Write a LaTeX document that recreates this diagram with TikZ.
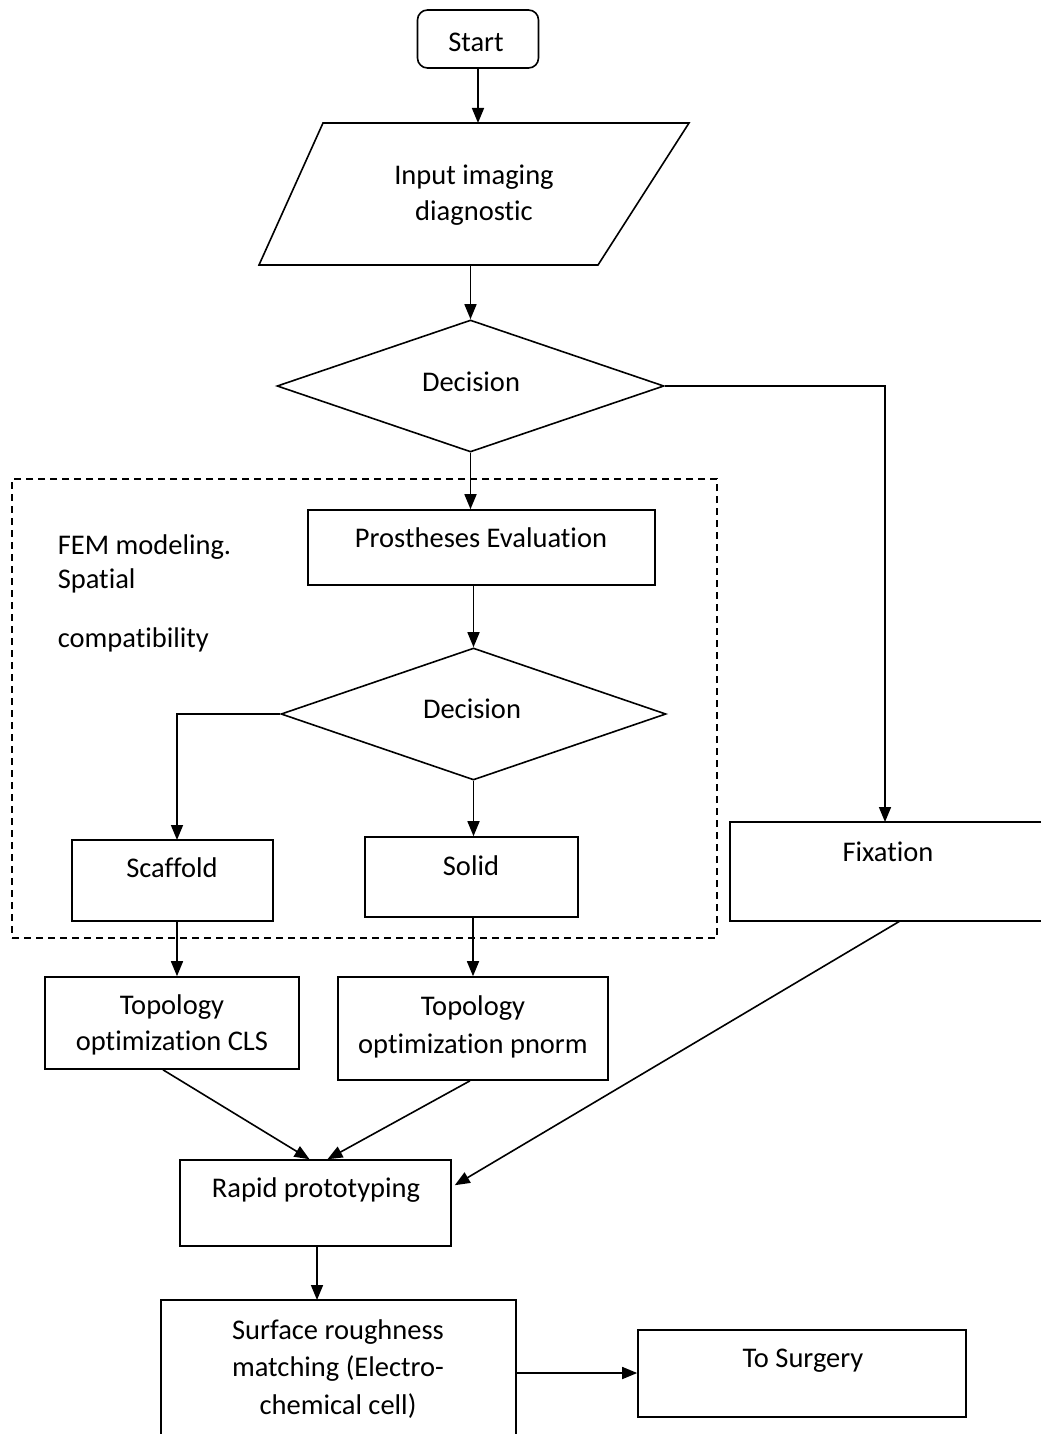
\documentclass[tikz,border=0pt]{standalone}
\usepackage{fontspec}
\setmainfont{Carlito}[RawFeature=-liga]
\usetikzlibrary{shapes.geometric,arrows.meta,calc}
\begin{document}
\begin{tikzpicture}[x=1pt,y=-1pt,line width=1.6pt,
  box/.style={draw,rectangle,inner sep=0pt},
  dec/.style={draw,diamond,inner sep=0pt},
  arr/.style={-{Triangle[length=15pt,width=12pt]}},
  lbl/.style={font=\fontsize{28.5}{36}\selectfont,align=center,inner sep=0pt},
  note/.style={font=\fontsize{28.5}{36}\selectfont,inner sep=0pt,anchor=base west}]
\useasboundingbox (0,0) rectangle (1041,1434);

% start terminal
\node[box,rounded corners=10pt,minimum width=121pt,minimum height=58pt] (start) at (478,39) {};
\node[lbl] (startT) at (476,42) {Start};

% input parallelogram
\coordinate (inTL) at (323,123);
\coordinate (inTR) at (689,123);
\coordinate (inBR) at (598,265);
\coordinate (inBL) at (259,265);
\draw (inTL) -- (inTR) -- (inBR) -- (inBL) -- cycle;
\coordinate (inT) at (478,123);
\coordinate (inB) at (467,265);
\node[lbl] (inputT) at (474,195) {Input imaging\\diagnostic};

% first decision
\node[dec,minimum width=387pt,minimum height=132pt] (d1) at (470.5,386) {};
\node[lbl] (d1T) at (471,382) {Decision};

% dashed group frame
\node[draw,dashed,dash pattern=on 7pt off 5pt,line width=1.3pt,rectangle,inner sep=0pt,
      minimum width=705pt,minimum height=459pt] (grp) at (364.5,708.5) {};
\node[note] (fem1) at (57,554) {FEM modeling.};
\node[note] (fem2) at (57,588) {Spatial};
\node[note] (fem3) at (57,647) {compatibility};

% prostheses evaluation
\node[box,minimum width=347pt,minimum height=75pt] (prost) at (481.5,547.5) {};
\node[lbl] (prostT) at (481,538) {Prostheses Evaluation};

% second decision
\node[dec,minimum width=385pt,minimum height=132pt] (d2) at (473.5,714) {};
\node[lbl] (d2T) at (472,709) {Decision};

% scaffold and solid
\node[box,minimum width=201pt,minimum height=81pt] (scaf) at (172.5,880.5) {};
\node[lbl] (scafT) at (172,868) {Scaffold};
\coordinate (scT) at (177,840);
\node[box,minimum width=213pt,minimum height=80pt] (solid) at (471.5,877) {};
\node[lbl] (solidT) at (471,866) {Solid};

% fixation (runs off the right edge)
\draw (1041,822) -- (730,822) -- (730,921) -- (1041,921);
\coordinate (fixT) at (885,822);
\coordinate (fixB) at (900,921);
\node[lbl] (fixTx) at (888,852) {Fixation};

% topology optimization boxes
\node[box,minimum width=254pt,minimum height=92pt] (tcls) at (172,1023) {};
\node[lbl] (tclsT) at (172,1025) {Topology\\optimization CLS};
\node[box,minimum width=270pt,minimum height=103pt] (tpn) at (473,1028.5) {};
\node[lbl,font=\fontsize{28.5}{38}\selectfont] (tpnT) at (473,1027) {Topology\\optimization pnorm};

% rapid prototyping
\node[box,minimum width=271pt,minimum height=86pt] (rapid) at (315.5,1203) {};
\node[lbl] (rapidT) at (316,1190) {Rapid prototyping};

% surface roughness matching (runs off the bottom edge)
\draw (161,1434) -- (161,1300) -- (516,1300) -- (516,1434);
\coordinate (surfT) at (317,1300);
\coordinate (surfR) at (516,1373);
\node[lbl,font=\fontsize{28.5}{37.5}\selectfont] (surfTx) at (338,1369) {Surface roughness\\matching (Electro-\\chemical cell)};

% to surgery
\node[box,minimum width=328pt,minimum height=87pt] (surg) at (802,1373.5) {};
\node[lbl] (surgT) at (803,1361) {To Surgery};

% connectors
\draw[arr] (start.south) -- (inT);
\draw[arr] (d1.north |- inB) -- (d1.north);
\draw[arr] (d1.east) -- (d1.east -| fixT) -- (fixT);
\draw[arr] (d1.south) -- (d1.south |- prost.north);
\draw[arr] (d2.north |- prost.south) -- (d2.north);
\draw[arr] (d2.west) -- (d2.west -| scT) -- (scT);
\draw[arr] (d2.south) -- (d2.south |- solid.north);
\draw[arr] (scT |- scaf.south) -- (scT |- tcls.north);
\draw[arr] (solid.south -| tpn.north) -- (tpn.north);
\draw[arr] ($(tcls.south)+(-9,0)$) -- ($(rapid.north)+(-6,0)$);
\draw[arr] ($(tpn.south)+(-3,0)$) -- ($(rapid.north)+(12,0)$);
\draw[arr] (fixB) -- ($(rapid.north east)+(3,26)$);
\draw[arr] (surfT |- rapid.south) -- (surfT);
\draw[arr] (surfR) -- (surfR -| surg.west);
\end{tikzpicture}
\end{document}
